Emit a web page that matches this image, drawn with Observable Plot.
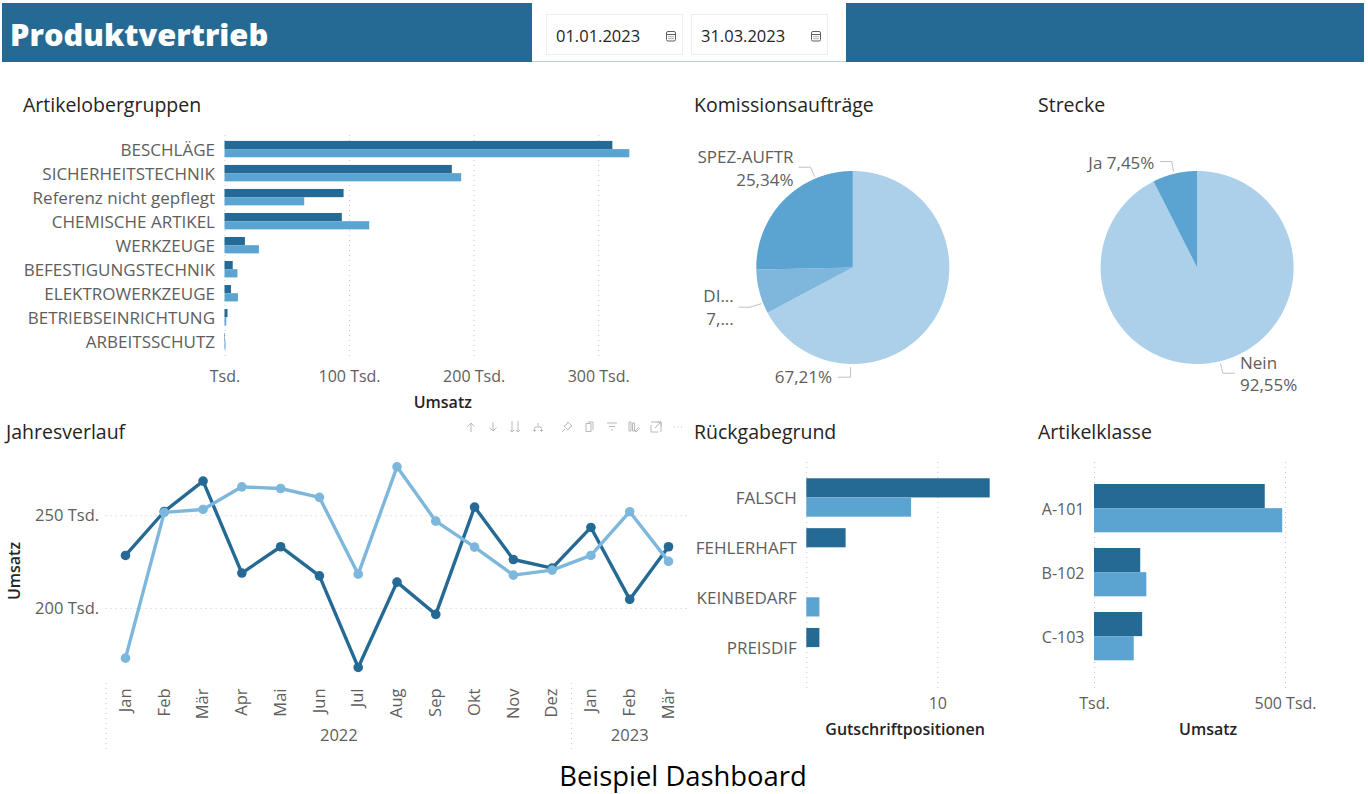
<!DOCTYPE html>
<html lang="de">
<head>
<meta charset="utf-8">
<title>Produktvertrieb</title>
<script src="https://cdn.jsdelivr.net/npm/d3@7"></script>
<script src="https://cdn.jsdelivr.net/npm/@observablehq/plot@0.6"></script>
<style>
  html, body { margin: 0; padding: 0; background: #fff; }
  body { position: relative; width: 1368px; height: 794px; overflow: hidden; font-family: "Open Sans", sans-serif; }
  .abs { position: absolute; }
  .band { position: absolute; top: 3px; height: 59px; background: #256A94; }
  .panel-title { position: absolute; font-size: 19.5px; font-weight: 500; color: #252423; line-height: 24px; white-space: nowrap; }
  .date { position: absolute; top: 14px; height: 41px; width: 137px; box-sizing: border-box; border: 1px solid #eeeeee; font-size: 16.5px; line-height: 42px; color: #252423; padding-left: 9px; }
  .date svg { position: absolute; right: 5px; top: 15px; }
</style>
</head>
<body>
<script>
// ---- data ----
const oberCategories = ["BESCHLÄGE", "SICHERHEITSTECHNIK", "Referenz nicht gepflegt", "CHEMISCHE ARTIKEL", "WERKZEUGE", "BEFESTIGUNGSTECHNIK", "ELEKTROWERKZEUGE", "BETRIEBSEINRICHTUNG", "ARBEITSSCHUTZ"];
const oberDark = [311.4, 182.5, 95.6, 94.2, 16.4, 6.6, 5.2, 2.4, 0.4];
const oberLight = [325, 190, 64, 116.2, 27.6, 10.4, 10.8, 1.4, 0.8];

const rueckCategories = ["FALSCH", "FEHLERHAFT", "KEINBEDARF", "PREISDIF"];
const rueckDark = [14, 3, 0, 1];
const rueckLight = [8, 0, 1, 0];

const klasseCategories = ["A-101", "B-102", "C-103"];
const klasseDark = [447, 121, 126];
const klasseLight = [492.7, 137, 104];

const monthKeys = ["Jan 2022", "Feb 2022", "Mär 2022", "Apr 2022", "Mai 2022", "Jun 2022", "Jul 2022", "Aug 2022", "Sep 2022", "Okt 2022", "Nov 2022", "Dez 2022", "Jan 2023", "Feb 2023", "Mär 2023"];
const verlaufDark = [228.6, 252.3, 268.7, 219.1, 233.3, 217.6, 168.2, 214.2, 196.8, 254.7, 226.4, 221.8, 243.7, 204.9, 233.3];
const verlaufLight = [173.2, 251.8, 253.4, 265.6, 264.7, 259.9, 218.5, 276.4, 247.1, 233.1, 218, 220.7, 228.6, 252.2, 225.4];

const komNames = ["Sonstige", "DI", "SPEZ-AUFTR"];
const komValues = [67.21, 7.45, 25.34];
const streckeNames = ["Nein", "Ja"];
const streckeValues = [92.55, 7.45];

// ---- styling ----
const FONT = '"Open Sans", sans-serif';
const DARK = "#256A94", LIGHT = "#5BA3D1", LINE_LIGHT = "#7DB8DC", MID = "#7FB7DC", PALE = "#ACD0E9";
const TEXT = "#605E5C", HEAD = "#252423", GRID = "#c8c8c8";
const tsd = d => d === 0 ? "Tsd." : `${d} Tsd.`;
const gridStyle = {stroke: GRID, strokeOpacity: 1, strokeDasharray: "1 4"};

function place(svg, left, top) {
  svg.style.position = "absolute";
  svg.style.left = left + "px";
  svg.style.top = top + "px";
  svg.style.overflow = "visible";
  document.body.appendChild(svg);
}
function html(tag, cls, text, css) {
  const el = document.createElement(tag);
  el.className = cls;
  if (text) el.textContent = text;
  Object.assign(el.style, css || {});
  document.body.appendChild(el);
  return el;
}

// ---- header ----
html("div", "band", "", {left: "2px", width: "530px"});
html("div", "band", "", {left: "846px", width: "518px"});
html("div", "abs", "", {left: "532px", top: "61px", width: "314px", height: "1px", background: "#b9d3e4"});
html("div", "abs", "Produktvertrieb", {left: "10px", top: "9px", fontSize: "30.8px", fontWeight: "800", color: "#fff", lineHeight: "50px", whiteSpace: "nowrap"});
const calIcon = `<svg width="12" height="12" viewBox="0 0 12 12" fill="none" stroke="#605E5C" stroke-width="1"><rect x="1.5" y="1.5" width="9" height="9.5" rx="1.5"/><path d="M1.5 4.5h9M3.5 6.7h1M5.5 6.7h1M7.5 6.7h1M3.5 8.7h1M5.5 8.7h1M7.5 8.7h1"/></svg>`;
for (const [txt, x] of [["01.01.2023", 546], ["31.03.2023", 691]]) {
  const d = html("div", "date", txt, {left: x + "px"});
  d.insertAdjacentHTML("beforeend", calIcon);
}

// ---- panel titles ----
for (const [txt, x, y] of [["Artikelobergruppen", 23, 93], ["Komissionsaufträge", 694, 93], ["Strecke", 1038, 93], ["Jahresverlauf", 6, 420], ["Rückgabegrund", 694, 420], ["Artikelklasse", 1038, 420]]) {
  html("div", "panel-title", txt, {left: x + "px", top: y + "px"});
}

// ---- grouped horizontal bars ----
function groupedBars({cats, dark, light, left, top, width, height, marginLeft, marginRight, marginTop, marginBottom, domain, ticks, tickFormat, paddingInner, paddingOuter, align, halfBar, label, labelDx, labelDy, tickDy, catSize}) {
  const rows = vals => vals.map((v, i) => ({cat: cats[i], v})).filter(d => d.v > 0);
  const svg = Plot.plot({
    width, height, marginLeft, marginRight, marginTop, marginBottom,
    style: {fontFamily: FONT, fontSize: "16px", color: TEXT, background: "transparent"},
    x: {domain, axis: null},
    y: {domain: cats, paddingInner, paddingOuter, align, round: false, axis: null},
    marks: [
      Plot.gridX(ticks, gridStyle),
      Plot.barX(rows(dark), {x: "v", y: "cat", fill: DARK, insetBottom: halfBar}),
      Plot.barX(rows(light), {x: "v", y: "cat", fill: LIGHT, insetTop: halfBar}),
      Plot.axisY({tickSize: 0, tickPadding: 10, dy: 1, label: null, fill: TEXT, fontSize: catSize}),
      Plot.axisX({ticks, tickFormat, tickSize: 0, tickPadding: tickDy, label: null, fill: TEXT}),
      Plot.text([label], {frameAnchor: "bottom", dx: labelDx, dy: labelDy, fill: HEAD, fontWeight: 600, fontSize: 16})
    ]
  });
  place(svg, left, top);
}

groupedBars({
  cats: oberCategories, dark: oberDark, light: oberLight, catSize: 17,
  left: 0, top: 125, width: 684, height: 290,
  marginLeft: 224.5, marginRight: 684 - 648, marginTop: 10, marginBottom: 58,
  domain: [0, 340], ticks: [0, 100, 200, 300], tickFormat: tsd,
  paddingInner: 0.317, paddingOuter: 0.28, align: 0.44, halfBar: 8.2,
  label: "Umsatz", labelDx: 6, labelDy: 50, tickDy: 13
});
groupedBars({
  cats: rueckCategories, dark: rueckDark, light: rueckLight, catSize: 17,
  left: 684, top: 452, width: 340, height: 290,
  marginLeft: 122.3, marginRight: 340 - 122.3 - 196.5, marginTop: 10, marginBottom: 53,
  domain: [0, 15], ticks: [0, 10], tickFormat: d => d === 0 ? "" : d,
  paddingInner: 0.23, paddingOuter: 0.39, align: 0.418, halfBar: 19.25,
  label: "Gutschriftpositionen", labelDx: 0, labelDy: 45, tickDy: 8
});
groupedBars({
  cats: klasseCategories, dark: klasseDark, light: klasseLight, catSize: 16,
  left: 1024, top: 452, width: 344, height: 290,
  marginLeft: 70, marginRight: 344 - 70 - 229.2, marginTop: 10, marginBottom: 53,
  domain: [0, 600], ticks: [0, 500], tickFormat: tsd,
  paddingInner: 0.245, paddingOuter: 0.396, align: 0.434, halfBar: 24.15,
  label: "Umsatz", labelDx: -1, labelDy: 45, tickDy: 8
});

// ---- pies ----
function pie({names, values, colors, cx, cy, r, left, top, width, height, leaders, labels}) {
  const total = d3.sum(values);
  let acc = 0;
  const poly = [];
  names.forEach((name, i) => {
    const a0 = acc / total * 2 * Math.PI;
    acc += values[i];
    const a1 = acc / total * 2 * Math.PI;
    poly.push({name, x: 0, y: 0});
    for (const a of d3.range(a0, a1, 0.005).concat(a1)) poly.push({name, x: Math.sin(a), y: Math.cos(a)});
  });
  const ux = px => (px - cx) / r, uy = py => (cy - py) / r;
  const leaderRows = leaders.flatMap((pts, i) => pts.map(([x, y]) => ({i, x: ux(x), y: uy(y)})));
  const labelRows = labels.map(([text, x, y, textAnchor]) => ({text, x: ux(x), y: uy(y), textAnchor}));
  const svg = Plot.plot({
    width, height, margin: 0,
    style: {fontFamily: FONT, fontSize: "17px", color: TEXT, background: "transparent"},
    x: {domain: [-1, 1], range: [cx - r - left, cx + r - left], axis: null},
    y: {domain: [-1, 1], range: [cy + r - top, cy - r - top], axis: null},
    color: {domain: names, range: colors},
    marks: [
      Plot.line(poly, {x: "x", y: "y", z: "name", fill: "name", stroke: null, curve: "linear"}),
      Plot.line(leaderRows, {x: "x", y: "y", z: "i", stroke: "#c0c0c0", strokeWidth: 1}),
      Plot.text(labelRows.filter(d => d.textAnchor === "end"), {x: "x", y: "y", text: "text", textAnchor: "end", fill: TEXT}),
      Plot.text(labelRows.filter(d => d.textAnchor === "start"), {x: "x", y: "y", text: "text", textAnchor: "start", fill: TEXT})
    ]
  });
  place(svg, left, top);
}

pie({
  names: komNames, values: komValues, colors: [PALE, MID, LIGHT],
  cx: 852.3, cy: 267, r: 96.5, left: 690, top: 130, width: 320, height: 280,
  leaders: [
    [[814, 175.7], [810, 166.7], [798.4, 166.7]],
    [[760.4, 303.3], [749.5, 306.7], [738.6, 306.7]],
    [[850, 367], [850, 376.7], [837.7, 376.7]]
  ],
  labels: [
    ["SPEZ-AUFTR", 793, 157, "end"], ["25,34%", 793, 180, "end"],
    ["DI...", 733.3, 296, "end"], ["7,...", 733.3, 319, "end"],
    ["67,21%", 831.6, 377, "end"]
  ]
});
pie({
  names: streckeNames, values: streckeValues, colors: [PALE, LIGHT],
  cx: 1196.6, cy: 267, r: 96.5, left: 1030, top: 130, width: 330, height: 280,
  leaders: [
    [[1173, 170.7], [1171.3, 161], [1160, 161]],
    [[1220, 363.3], [1222.4, 372.7], [1234, 372.7]]
  ],
  labels: [
    ["Ja 7,45%", 1153.9, 163, "end"],
    ["Nein", 1239.5, 363.3, "start"], ["92,55%", 1239.5, 385, "start"]
  ]
});

// ---- Jahresverlauf ----
const rowsOf = vals => vals.map((v, i) => ({key: monthKeys[i], v}));
const xLine = {type: "band", domain: monthKeys, padding: 0, round: false, axis: null};
const step = (687.4 - 105.6) / monthKeys.length;

place(Plot.plot({
  width: 690, height: 240, marginLeft: 105.6, marginRight: 2.6, marginTop: 10, marginBottom: 5,
  style: {fontFamily: FONT, fontSize: "16.5px", color: TEXT, background: "transparent"},
  x: xLine,
  y: {domain: [161.16, 282.5], axis: null},
  marks: [
    Plot.gridY([200, 250], gridStyle),
    Plot.axisY([200, 250], {tickFormat: tsd, tickSize: 0, tickPadding: 7, label: null, fill: TEXT}),
    Plot.text(["Umsatz"], {frameAnchor: "left", textAnchor: "middle", rotate: -90, dx: -91.6, dy: 3, fill: HEAD, fontWeight: 600, fontSize: 16}),
    Plot.line(rowsOf(verlaufDark), {x: "key", y: "v", stroke: DARK, strokeWidth: 3.4}),
    Plot.dot(rowsOf(verlaufDark), {x: "key", y: "v", r: 4.8, fill: DARK}),
    Plot.line(rowsOf(verlaufLight), {x: "key", y: "v", stroke: LINE_LIGHT, strokeWidth: 3.4}),
    Plot.dot(rowsOf(verlaufLight), {x: "key", y: "v", r: 4.8, fill: LINE_LIGHT})
  ]
}), 0, 445);

// hierarchical month / year axis below the line chart
const yearLabels = [["2022", "Jun 2022", step / 2], ["2023", "Feb 2023", 0]];
place(Plot.plot({
  width: 690, height: 66, marginLeft: 105.6, marginRight: 2.6, marginTop: 0, marginBottom: 0,
  style: {fontFamily: FONT, fontSize: "16.5px", color: TEXT, background: "transparent"},
  x: xLine,
  marks: [
    Plot.ruleX(["Jan 2022", "Jan 2023"], {dx: -step / 2, ...gridStyle}),
    Plot.text(monthKeys, {x: d => d, text: d => d.split(" ")[0], rotate: -90, textAnchor: "end", lineAnchor: "middle", frameAnchor: "top", dy: 5, fill: TEXT}),
    ...yearLabels.map(([y, k, dx]) => Plot.text([k], {x: d => d, text: () => y, frameAnchor: "bottom", dx, dy: -9, fill: TEXT}))
  ]
}), 0, 683);

// ---- hover toolbar ----
const toolbar = [
  [471, '<path d="M6 11V2M2.5 5.5 6 2l3.5 3.5"/>'],
  [493, '<path d="M6 1v9M2.5 6.5 6 10l3.5-3.5"/>'],
  [515, '<path d="M3 0v11M1 9l2 2 2-2M9 0v11M7 9l2 2 2-2"/>'],
  [538, '<path d="M6 2v3M2.5 10V7.5a1.5 1.5 0 0 1 1.5-1.5h4a1.5 1.5 0 0 1 1.5 1.5V10M1 9l1.5 1.5L4 9M8 9l1.5 1.5L11 9"/>'],
  [566.5, '<path d="M7 1l4 4-2 1-2 3-4-4 3-2zM4 8l-3 3"/>'],
  [589, '<path d="M3 2.5h5v8H3zM5 1h5v8"/>'],
  [612, '<path d="M1 2h10M3 5.5h6M5 9h2"/>'],
  [633.5, '<path d="M1 10V1h2v9zM4.5 10V2h2v8zM7 10l3.5-3.5 1 1L8 11z"/>'],
  [656, '<path d="M1 4v7h7M1 1h10v10M7 1h4v4M5 7l6-6"/>'],
  [678, '<path d="M2 6h1M5.5 6h1M9 6h1"/>']
];
for (const [x, path] of toolbar) {
  document.body.insertAdjacentHTML("beforeend",
    `<svg class="abs" style="left:${x - 6}px;top:421px" width="12" height="12" viewBox="0 0 12 12" fill="none" stroke="#b8b8b8" stroke-width="1">${path}</svg>`);
}

// ---- caption ----
html("div", "abs", "Beispiel Dashboard", {left: "0", width: "1366px", textAlign: "center", top: "757px", fontSize: "27.4px", lineHeight: "38px", color: "#000"});
</script>
</body>
</html>
